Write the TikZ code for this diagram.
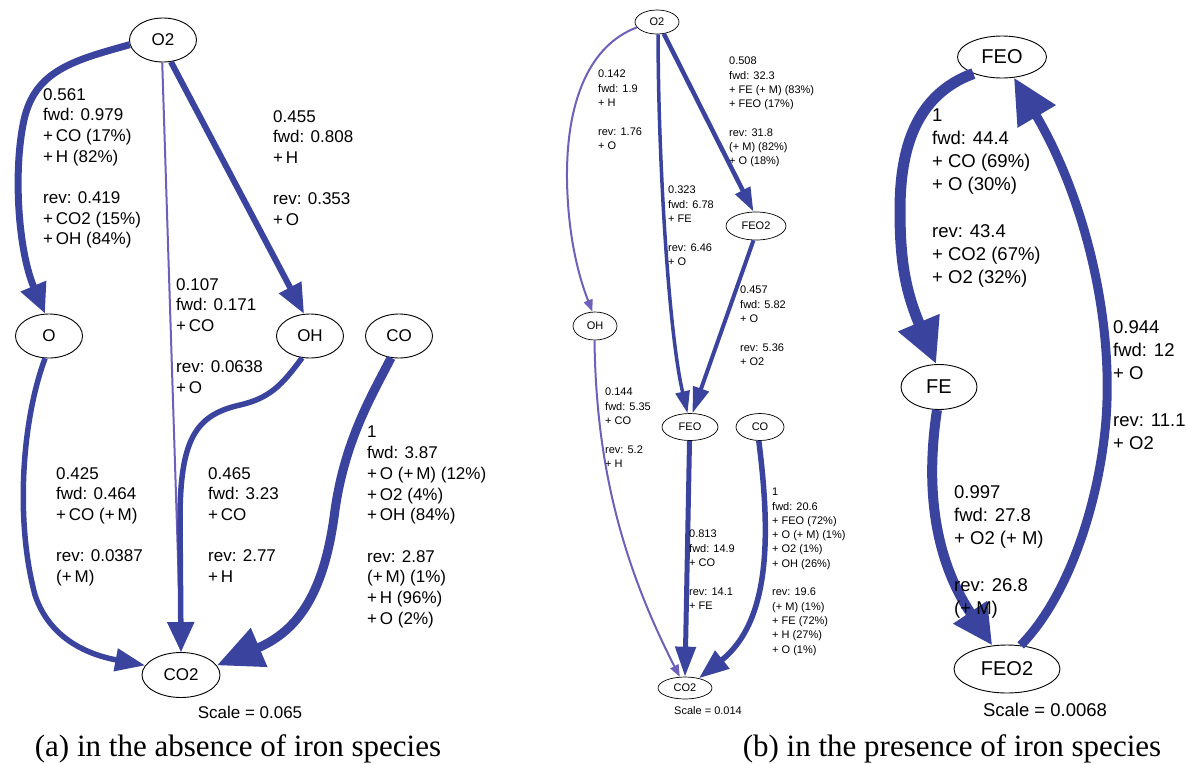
\documentclass[tikz,border=0pt]{standalone}
\usepackage{fontspec}
\setmainfont{Liberation Serif}
\newfontfamily\labfont{Liberation Sans}
\usetikzlibrary{arrows.meta,shapes.geometric}
\definecolor{pathblue}{RGB}{58,68,158}
\definecolor{faintblue}{RGB}{108,96,186}

\tikzset{
  species/.style={draw=black, fill=white, ellipse, inner sep=0pt, line width=0.9pt},
  spbig/.style={species, minimum width=67pt, minimum height=44pt,
    font=\labfont\fontsize{17}{20}\selectfont},
  spsmall/.style={species, line width=0.7pt, minimum width=44pt, minimum height=24pt,
    font=\labfont\fontsize{11}{12}\selectfont},
  spfe/.style={species, minimum width=89pt, minimum height=42pt,
    font=\labfont\fontsize{20}{24}\selectfont},
  rateA/.style={anchor=north west, align=left, inner sep=0pt,
    font=\labfont\fontsize{17}{20.7}\selectfont},
  rateB/.style={anchor=north west, align=left, inner sep=0pt,
    font=\labfont\fontsize{11}{14.3}\selectfont},
  rateC/.style={anchor=north west, align=left, inner sep=0pt,
    font=\labfont\fontsize{18.5}{23}\selectfont},
  flux/.style={draw=pathblue},
  faint/.style={draw=faintblue, line width=2pt},
  caption/.style={anchor=base, inner sep=0pt, font=\fontsize{31}{36}\selectfont},
}

\begin{document}
\begin{tikzpicture}[x=1pt, y=-1pt]
\useasboundingbox (0,0) rectangle (1186,764);

% ---------- (a) without iron ----------
\node[spbig] (a-O2) at (163,40) {O2};
\node[spbig] (a-O)  at (49,336) {O};
\node[spbig] (a-OH) at (310,336) {OH};
\node[spbig] (a-CO) at (399,336) {CO};
\node[spbig, minimum width=78pt, minimum height=45pt] (a-CO2) at (181,675) {CO2};

\draw[flux, line width=7pt, -{Triangle[length=30pt,width=26pt]}]
  (a-O2.188) .. controls (75,60) and (35,70) .. (24,120)
  .. controls (13,170) and (18,250) .. (a-O.100);
\draw[faint, -{Triangle[length=14pt,width=10pt]}] (a-O2.268) -- (a-CO2.north);
\draw[flux, line width=6pt, -{Triangle[length=30pt,width=24pt]}] (a-O2.290) -- (a-OH.105);
\draw[flux, line width=5.5pt, -{Triangle[length=30pt,width=22pt]}]
  (a-O.260) .. controls (22,420) and (15,520) .. (35,595)
  .. controls (50,640) and (90,655) .. (a-CO2.165);
\draw[flux, line width=5.5pt, -{Triangle[length=30pt,width=26pt]}]
  (a-OH.250) .. controls (282,385) and (270,398) .. (240,405)
  .. controls (195,415) and (180,440) .. (180,520) -- (a-CO2.north);
\draw[flux, line width=9pt, -{Triangle[length=46pt,width=40pt]}]
  (a-CO.250) .. controls (372,395) and (345,440) .. (335,510)
  .. controls (325,590) and (300,630) .. (a-CO2.15);

\node[rateA] (a-r1) at (43,88) {0.561\\fwd: 0.979\\+\,CO (17\%)\\+\,H (82\%)\\[20.7pt]rev: 0.419\\+\,CO2 (15\%)\\+\,OH (84\%)};
\node[rateA] (a-r2) at (273,110) {0.455\\fwd: 0.808\\+\,H\\[20.7pt]rev: 0.353\\+\,O};
\node[rateA] (a-r3) at (176,278) {0.107\\fwd: 0.171\\+\,CO\\[20.7pt]rev: 0.0638\\+\,O};
\node[rateA] (a-r4) at (56,467) {0.425\\fwd: 0.464\\+\,CO (+\,M)\\[20.7pt]rev: 0.0387\\(+\,M)};
\node[rateA] (a-r5) at (208,467) {0.465\\fwd: 3.23\\+\,CO\\[20.7pt]rev: 2.77\\+\,H};
\node[rateA] (a-r6) at (367,426) {1\\fwd: 3.87\\+\,O (+\,M) (12\%)\\+\,O2 (4\%)\\+\,OH (84\%)\\[20.7pt]rev: 2.87\\(+\,M) (1\%)\\+\,H (96\%)\\+\,O (2\%)};
\node[font=\labfont\fontsize{17}{20}\selectfont, inner sep=0pt] (a-scale) at (250,712) {Scale = 0.065};

% ---------- (b) with iron: full network ----------
\node[spsmall] (b-O2)   at (657,22) {O2};
\node[spsmall, minimum height=28pt] (b-OH) at (595,326) {OH};
\node[spsmall, minimum width=60pt, minimum height=28pt] (b-FEO2) at (756,226) {FEO2};
\node[spsmall, minimum width=56pt, minimum height=27pt] (b-FEO) at (690,427) {FEO};
\node[spsmall, minimum width=48pt, minimum height=27pt] (b-CO) at (760,427) {CO};
\node[spsmall, minimum width=54pt, minimum height=22pt] (b-CO2) at (685,688) {CO2};

\draw[faint, -{Triangle[length=12pt,width=9pt]}]
  (b-O2.195) .. controls (590,45) and (566,100) .. (567,180)
  .. controls (568,240) and (580,280) .. (b-OH.100);
\draw[flux, line width=3.5pt, -{Triangle[length=22pt,width=14pt]}]
  (b-O2.275) .. controls (658,150) and (668,330) .. (b-FEO.100);
\draw[flux, line width=4.5pt, -{Triangle[length=24pt,width=16pt]}] (b-O2.300) -- (b-FEO2.100);
\draw[flux, line width=4pt, -{Triangle[length=26pt,width=16pt]}] (b-FEO2.260) -- (b-FEO.80);
\draw[faint, -{Triangle[length=12pt,width=9pt]}]
  (b-OH.268) .. controls (596,460) and (620,560) .. (b-CO2.115);
\draw[flux, line width=5pt, -{Triangle[length=30pt,width=20pt]}] (b-FEO.268) -- (b-CO2.north);
\draw[flux, line width=5.5pt, -{Triangle[length=30pt,width=22pt]}]
  (b-CO.265) .. controls (770,530) and (772,620) .. (b-CO2.35);

\node[rateB] (b-r1) at (598,70) {0.142\\fwd: 1.9\\+ H\\[14.3pt]rev: 1.76\\+ O};
\node[rateB] (b-r2) at (729,57) {0.508\\fwd: 32.3\\+ FE (+ M) (83\%)\\+ FEO (17\%)\\[14.3pt]rev: 31.8\\(+ M) (82\%)\\+ O (18\%)};
\node[rateB] (b-r3) at (668,186) {0.323\\fwd: 6.78\\+ FE\\[14.3pt]rev: 6.46\\+ O};
\node[rateB] (b-r4) at (740,286) {0.457\\fwd: 5.82\\+ O\\[14.3pt]rev: 5.36\\+ O2};
\node[rateB] (b-r5) at (605,388) {0.144\\fwd: 5.35\\+ CO\\[14.3pt]rev: 5.2\\+ H};
\node[rateB] (b-r6) at (689,530) {0.813\\fwd: 14.9\\+ CO\\[14.3pt]rev: 14.1\\+ FE};
\node[rateB] (b-r7) at (772,488) {1\\fwd: 20.6\\+ FEO (72\%)\\+ O (+ M) (1\%)\\+ O2 (1\%)\\+ OH (26\%)\\[14.3pt]rev: 19.6\\(+ M) (1\%)\\+ FE (72\%)\\+ H (27\%)\\+ O (1\%)};
\node[font=\labfont\fontsize{11}{12}\selectfont, inner sep=0pt] (b-scale) at (708,711) {Scale = 0.014};

% ---------- (b) with iron: iron cycle ----------
\node[spfe] (c-FEO) at (1002,57) {FEO};
\node[spfe, minimum width=76pt, minimum height=45pt] (c-FE) at (939,387) {FE};
\node[spfe, minimum width=106pt, minimum height=48pt] (c-FEO2) at (1007,669) {FEO2};

\draw[flux, line width=11pt, -{Triangle[length=45pt,width=42pt]}]
  (c-FEO.210) .. controls (915,95) and (900,150) .. (900,210)
  .. controls (900,260) and (905,290) .. (c-FE.97);
\draw[flux, line width=10pt, -{Triangle[length=40pt,width=38pt]}]
  (c-FE.265) .. controls (925,490) and (935,560) .. (c-FEO2.122);
\draw[flux, line width=9pt, -{Triangle[length=45pt,width=42pt]}]
  (c-FEO2.60) .. controls (1075,590) and (1105,480) .. (1107,400)
  .. controls (1110,300) and (1080,190) .. (c-FEO.300);

\node[rateC] (c-r1) at (932,109) {1\\fwd: 44.4\\+ CO (69\%)\\+ O (30\%)\\[24pt]rev: 43.4\\+ CO2 (67\%)\\+ O2 (32\%)};
\node[rateC] (c-r2) at (1113,320) {0.944\\fwd: 12\\+ O\\[24pt]rev: 11.1\\+ O2};
\node[rateC] (c-r3) at (954,485) {0.997\\fwd: 27.8\\+ O2 (+ M)\\[24pt]rev: 26.8\\(+ M)};
\node[font=\labfont\fontsize{18.5}{22}\selectfont, inner sep=0pt] (c-scale) at (1045,710) {Scale = 0.0068};

% ---------- captions ----------
\node[caption] (cap-a) at (238,756) {(a) in the absence of iron species};
\node[caption] (cap-b) at (952,756) {(b) in the presence of iron species};
\end{tikzpicture}
\end{document}
